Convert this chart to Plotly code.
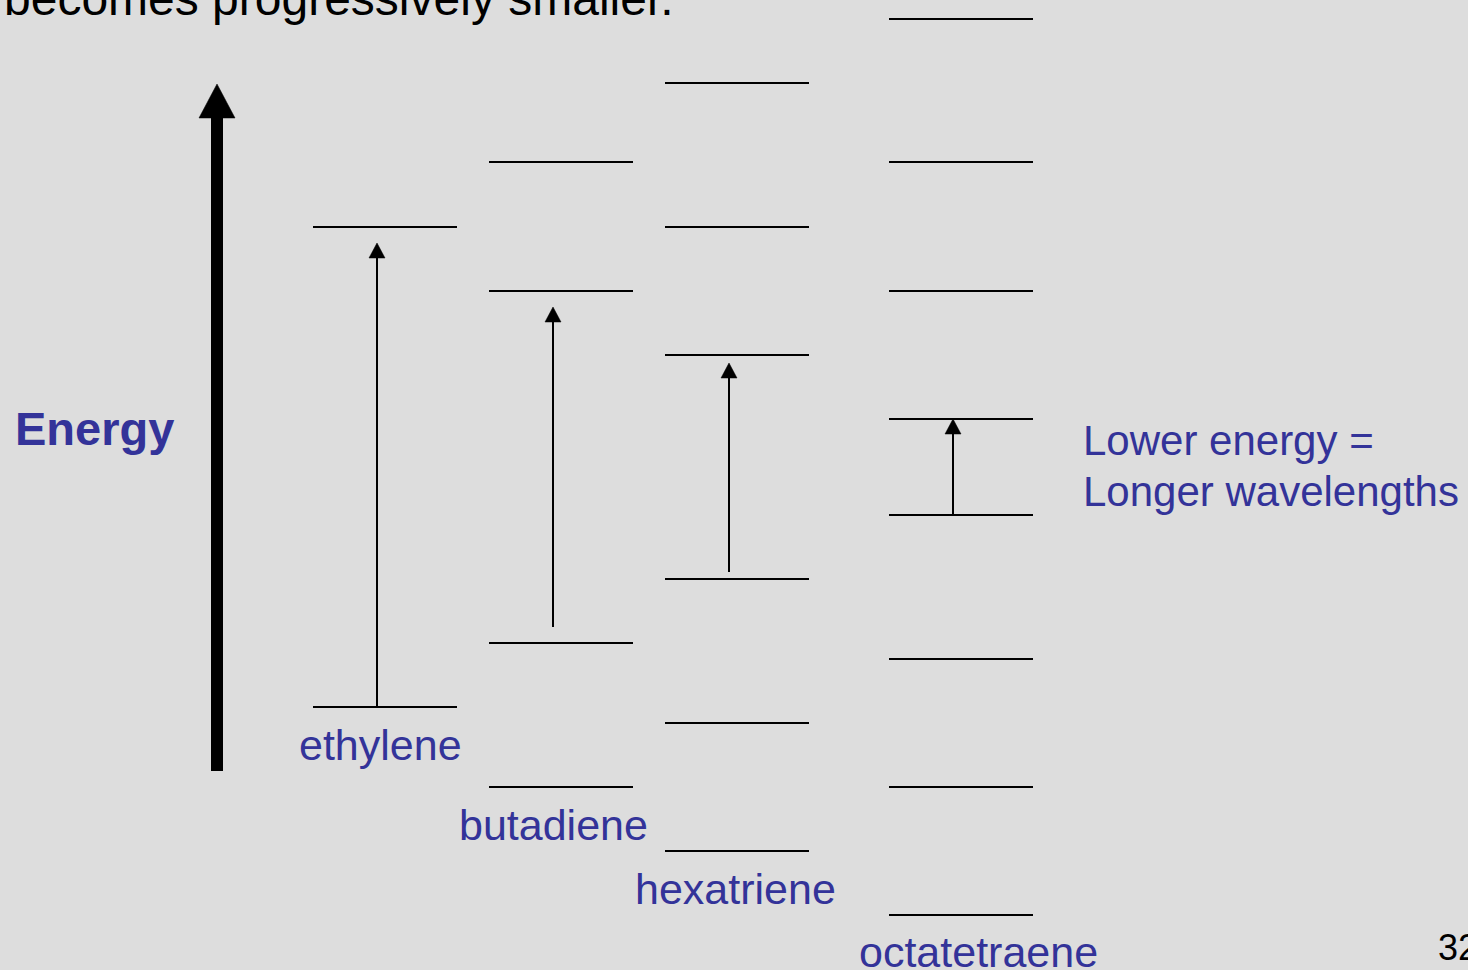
import plotly.graph_objects as go

# ---- data (energy in arbitrary units, larger = higher) ----
molecules = ["ethylene", "butadiene", "hexatriene", "octatetraene"]
level_x_start = [313, 489, 665, 889]
level_x_end = [457, 633, 809, 1033]
levels = [
    [743, 263],
    [808, 679, 327, 183],
    [887, 743, 615, 391, 247, 119],
    [951, 808, 679, 551, 455, 311, 183, 55],
]
arrow_x = [377, 553, 729, 953]
arrow_from = [263, 343, 398, 455]
arrow_to = [727, 663, 607, 551]

label_x = [380, 553, 735, 978]
label_y = [225, 145, 81, 18]

TXT = "#333399"
FONT = "Liberation Sans, Arial, sans-serif"

fig = go.Figure()

# energy levels
for i, m in enumerate(molecules):
    xs, ys = [], []
    for e in levels[i]:
        xs += [level_x_start[i], level_x_end[i], None]
        ys += [e, e, None]
    fig.add_trace(go.Scatter(x=xs, y=ys, mode="lines",
                             line=dict(color="black", width=2.2),
                             hoverinfo="skip", showlegend=False))

# transition arrows (shaft + triangular head)
HEAD_H, HEAD_W = 15, 8
for i in range(len(molecules)):
    x0 = arrow_x[i]
    fig.add_trace(go.Scatter(x=[x0, x0], y=[arrow_from[i], arrow_to[i] - HEAD_H + 1],
                             mode="lines", line=dict(color="black", width=2),
                             hoverinfo="skip", showlegend=False))
    fig.add_trace(go.Scatter(x=[x0 - HEAD_W, x0, x0 + HEAD_W, x0 - HEAD_W],
                             y=[arrow_to[i] - HEAD_H, arrow_to[i], arrow_to[i] - HEAD_H, arrow_to[i] - HEAD_H],
                             mode="lines", fill="toself", fillcolor="black",
                             line=dict(color="black", width=0.5),
                             hoverinfo="skip", showlegend=False))

# big energy arrow
EX, E_BOTTOM, E_HEADBASE, E_TIP = 217, 199, 852, 886
fig.add_trace(go.Scatter(x=[EX, EX], y=[E_BOTTOM, E_HEADBASE + 1], mode="lines",
                         line=dict(color="black", width=12),
                         hoverinfo="skip", showlegend=False))
fig.add_trace(go.Scatter(x=[EX - 18, EX, EX + 18, EX - 18],
                         y=[E_HEADBASE, E_TIP, E_HEADBASE, E_HEADBASE],
                         mode="lines", fill="toself", fillcolor="black",
                         line=dict(color="black", width=0.5),
                         hoverinfo="skip", showlegend=False))

annotations = []
for i, m in enumerate(molecules):
    annotations.append(dict(x=label_x[i], y=label_y[i], text=m, showarrow=False,
                            xanchor="center", yanchor="middle",
                            font=dict(family=FONT, size=43, color=TXT)))
annotations += [
    dict(x=94, y=542, text="<b>Energy</b>", showarrow=False, xanchor="center", yanchor="middle",
         font=dict(family=FONT, size=47, color=TXT)),
    dict(x=1081, y=530, text="Lower energy =", showarrow=False, xanchor="left", yanchor="middle",
         font=dict(family=FONT, size=42, color=TXT)),
    dict(x=1081, y=479, text="Longer wavelengths", showarrow=False, xanchor="left", yanchor="middle",
         font=dict(family=FONT, size=42, color=TXT)),
    dict(x=2, y=943, text="becomes progressively smaller.", showarrow=False, xanchor="left", yanchor="bottom",
         font=dict(family=FONT, size=48, color="black")),
    dict(x=1436, y=23, text="32", showarrow=False, xanchor="left", yanchor="middle",
         font=dict(family=FONT, size=36, color="black")),
]

fig.update_layout(
    width=1468, height=970,
    margin=dict(l=0, r=0, t=0, b=0),
    paper_bgcolor="#dddddd", plot_bgcolor="#dddddd",
    xaxis=dict(range=[0, 1468], visible=False, fixedrange=True),
    yaxis=dict(range=[0, 970], visible=False, fixedrange=True),
    annotations=annotations,
    showlegend=False,
)

fig.write_html("out.html", config={"displayModeBar": False},
               post_script="document.body.style.margin='0';document.body.style.background='#dddddd';")
